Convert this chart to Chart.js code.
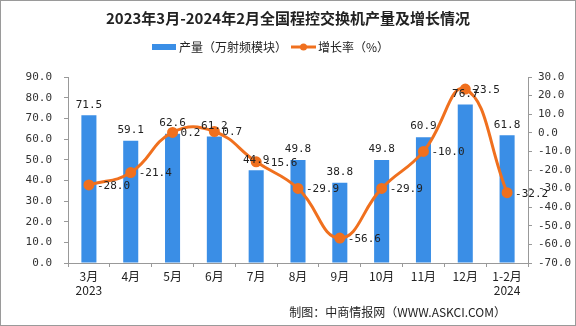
<!DOCTYPE html>
<html>
<head>
<meta charset="utf-8">
<script src="https://cdn.jsdelivr.net/npm/chart.js@4/dist/chart.umd.min.js"></script>
<style>
  html, body { margin: 0; padding: 0; background: #fff; }
  #wrap { position: relative; width: 576px; height: 326px; box-sizing: border-box; border: 1px solid #9a9a9a; }
  canvas { display: block; }
</style>
</head>
<body>
<div id="wrap"><canvas id="chart" width="574" height="324"></canvas></div>
<script>
const months = [['3月', '2023'], '4月', '5月', '6月', '7月', '8月', '9月', '10月', '11月', '12月', ['1-2月', '2024']];
const output = [71.5, 59.1, 62.6, 61.2, 44.9, 49.8, 38.8, 49.8, 60.9, 76.7, 61.8];
const growth = [-28.0, -21.4, 0.2, 0.7, -15.6, -29.9, -56.6, -29.9, -10.0, 23.5, -32.2];

const titleText = '2023年3月-2024年2月全国程控交换机产量及增长情况';
const sourceText = '制图：中商情报网（WWW.ASKCI.COM）';
const outputName = '产量（万射频模块）';
const growthName = '增长率（%）';

const BLUE = '#3a8ee6';
const ORANGE = '#f0701e';
const MONO = '11px "DejaVu Sans Mono", "Noto Sans CJK SC", monospace';
const CJK = '"Noto Sans CJK SC", "DejaVu Sans", sans-serif';

// title, legend, value labels and source line drawn straight onto the canvas
const decorations = {
  id: 'decorations',
  afterDatasetsDraw(chart) {
    const ctx = chart.ctx;
    ctx.save();
    ctx.fillStyle = '#222';
    ctx.font = 'bold 15px ' + CJK;
    ctx.textAlign = 'center';
    ctx.textBaseline = 'middle';
    ctx.fillText(titleText, 287, 17);

    // legend
    ctx.fillStyle = BLUE;
    ctx.fillRect(151, 43, 24, 6);
    ctx.font = '12px ' + CJK;
    ctx.textAlign = 'left';
    ctx.fillStyle = '#222';
    ctx.fillText(outputName, 178, 46);
    ctx.strokeStyle = ORANGE;
    ctx.lineWidth = 3;
    ctx.beginPath();
    ctx.moveTo(290, 46);
    ctx.lineTo(315, 46);
    ctx.stroke();
    ctx.fillStyle = ORANGE;
    ctx.beginPath();
    ctx.arc(302.5, 46, 3.5, 0, Math.PI * 2);
    ctx.fill();
    ctx.fillStyle = '#222';
    ctx.fillText(growthName, 317, 46);

    // value labels
    ctx.font = MONO;
    const bars = chart.getDatasetMeta(0).data;
    ctx.textAlign = 'center';
    ctx.textBaseline = 'bottom';
    bars.forEach((b, i) => {
      ctx.fillText(output[i].toFixed(1), b.x, b.y - 5);
    });
    const pts = chart.getDatasetMeta(1).data;
    ctx.textAlign = 'left';
    ctx.textBaseline = 'middle';
    pts.forEach((p, i) => {
      ctx.fillText(growth[i].toFixed(1), p.x + 8, p.y + 1);
    });

    ctx.font = '12px ' + CJK;
    ctx.textAlign = 'right';
    ctx.fillText(sourceText, 505, 311);
    ctx.restore();
  }
};

const axisGrid = { display: true, drawOnChartArea: false, color: '#999', tickLength: 4 };
const numTicks = {
  stepSize: 10,
  color: '#333',
  font: { family: '"DejaVu Sans Mono", monospace', size: 11 },
  callback: v => v.toFixed(1)
};

new Chart(document.getElementById('chart'), {
  data: {
    labels: months,
    datasets: [
      {
        type: 'bar',
        label: outputName,
        data: output,
        backgroundColor: BLUE,
        yAxisID: 'y',
        barPercentage: 0.72,
        categoryPercentage: 0.5,
        order: 2
      },
      {
        type: 'line',
        label: growthName,
        data: growth,
        borderColor: ORANGE,
        backgroundColor: ORANGE,
        borderWidth: 3,
        pointRadius: 4,
        pointHoverRadius: 4,
        tension: 0.45,
        yAxisID: 'y1',
        order: 1
      }
    ]
  },
  options: {
    responsive: false,
    animation: false,
    layout: { padding: { top: 76, left: 0, right: 0, bottom: 0 } },
    plugins: {
      legend: { display: false },
      title: { display: false },
      tooltip: { enabled: false }
    },
    scales: {
      x: {
        grid: axisGrid,
        border: { color: '#999' },
        ticks: { color: '#222', font: { family: CJK, size: 12 }, padding: 2, maxRotation: 0, autoSkip: false },
        afterFit(axis) { axis.height = 62; }
      },
      y: {
        position: 'left',
        min: 0,
        max: 90,
        grid: axisGrid,
        border: { color: '#999' },
        ticks: Object.assign({}, numTicks, { padding: 12 }),
        afterFit(axis) { axis.width = 67; }
      },
      y1: {
        position: 'right',
        min: -70,
        max: 30,
        grid: axisGrid,
        border: { color: '#999' },
        ticks: Object.assign({}, numTicks, { padding: 6 }),
        afterFit(axis) { axis.width = 47; }
      }
    }
  },
  plugins: [decorations]
});
</script>
</body>
</html>
